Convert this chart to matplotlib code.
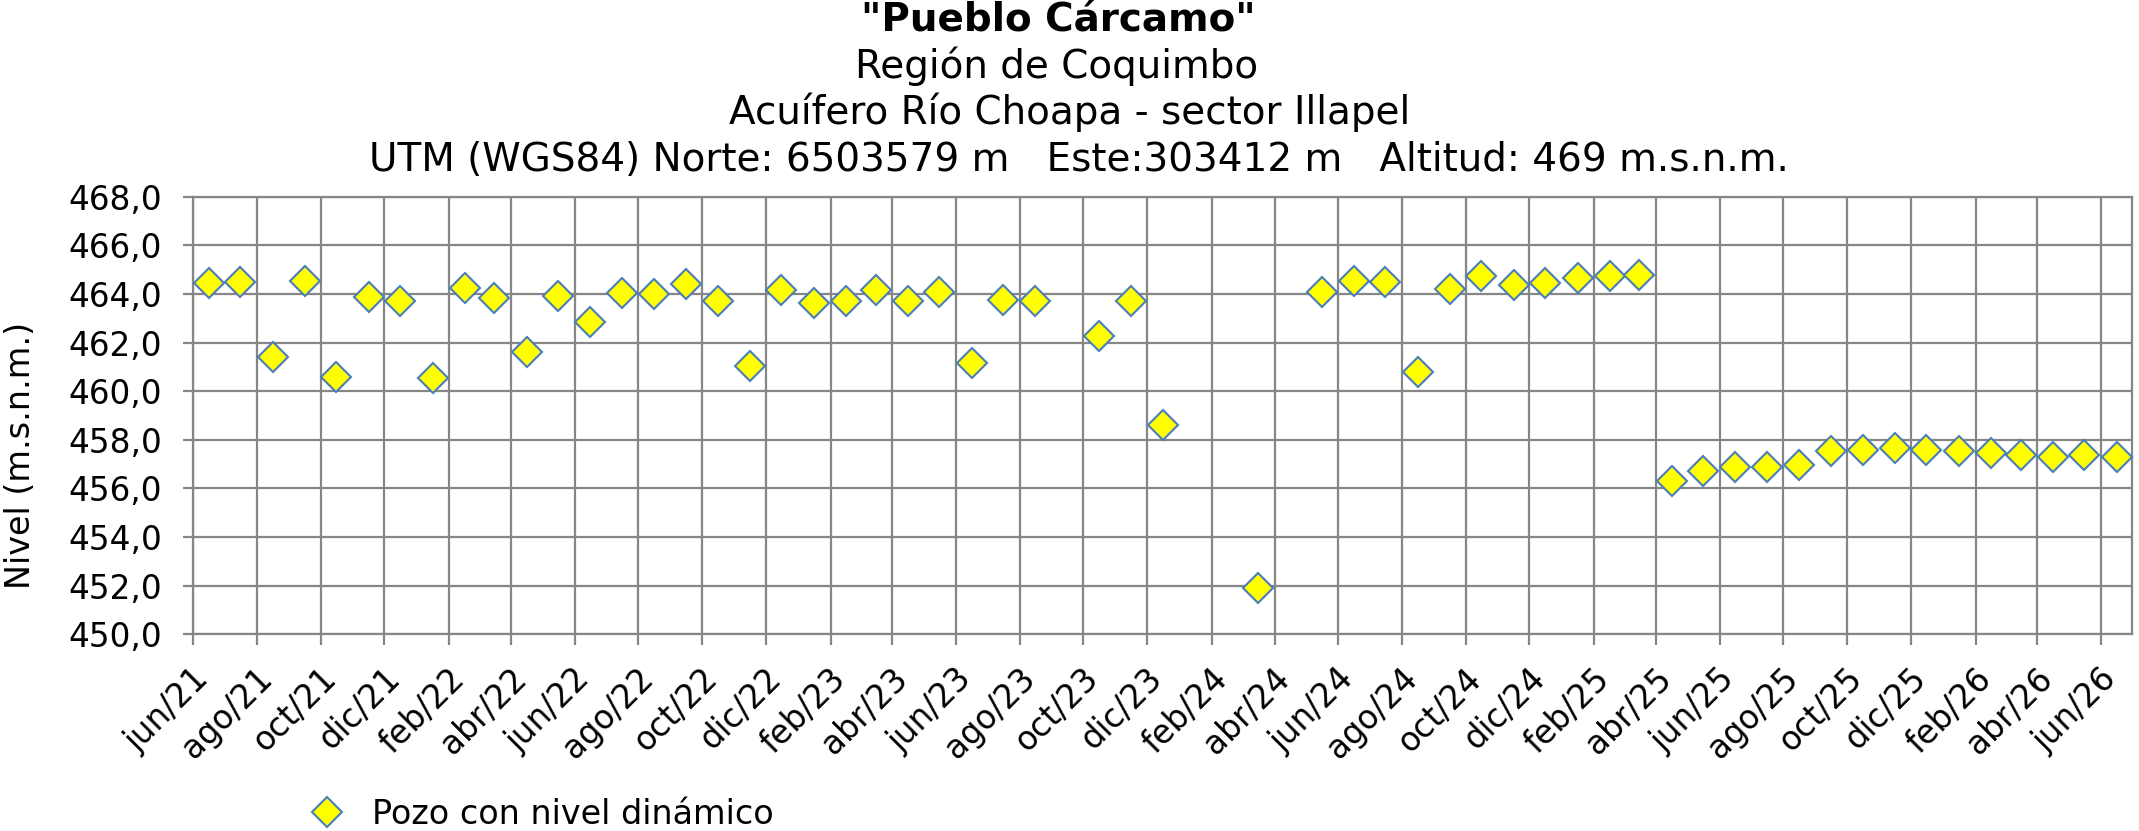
import matplotlib
matplotlib.use("Agg")
import matplotlib.pyplot as plt
import matplotlib.transforms as mtransforms
from matplotlib.lines import Line2D
from datetime import datetime

# ---------------- data ----------------
fechas = [
    "2021-06-16", "2021-07-16", "2021-08-16", "2021-09-16", "2021-10-16", "2021-11-16",
    "2021-12-16", "2022-01-16", "2022-02-16", "2022-03-16", "2022-04-16", "2022-05-16",
    "2022-06-16", "2022-07-16", "2022-08-16", "2022-09-16", "2022-10-16", "2022-11-16",
    "2022-12-16", "2023-01-16", "2023-02-16", "2023-03-16", "2023-04-16", "2023-05-16",
    "2023-06-16", "2023-07-16", "2023-08-16", "2023-10-16", "2023-11-16", "2023-12-16",
    "2024-03-16", "2024-05-16", "2024-06-16", "2024-07-16", "2024-08-16", "2024-09-16",
    "2024-10-16", "2024-11-16", "2024-12-16", "2025-01-16", "2025-02-16", "2025-03-16",
    "2025-04-16", "2025-05-16", "2025-06-16", "2025-07-16", "2025-08-16", "2025-09-16",
    "2025-10-16", "2025-11-16", "2025-12-16", "2026-01-16", "2026-02-16", "2026-03-16",
    "2026-04-16", "2026-05-16", "2026-06-16",
]
nivel = [
    464.47, 464.49, 461.42, 464.52, 460.57, 463.86,
    463.73, 460.54, 464.26, 463.83, 461.62, 463.93,
    462.84, 464.02, 463.98, 464.39, 463.71, 461.05,
    464.17, 463.64, 463.71, 464.15, 463.71, 464.10,
    461.18, 463.75, 463.71, 462.29, 463.69, 458.60,
    451.92, 464.09, 464.54, 464.50, 460.80, 464.19,
    464.75, 464.36, 464.47, 464.65, 464.72, 464.76,
    456.30, 456.72, 456.88, 456.90, 456.96, 457.52,
    457.59, 457.66, 457.57, 457.55, 457.44, 457.38,
    457.29, 457.36, 457.29,
]
tick_fechas = [
    "2021-06-01", "2021-08-01", "2021-10-01", "2021-12-01", "2022-02-01", "2022-04-01",
    "2022-06-01", "2022-08-01", "2022-10-01", "2022-12-01", "2023-02-01", "2023-04-01",
    "2023-06-01", "2023-08-01", "2023-10-01", "2023-12-01", "2024-02-01", "2024-04-01",
    "2024-06-01", "2024-08-01", "2024-10-01", "2024-12-01", "2025-02-01", "2025-04-01",
    "2025-06-01", "2025-08-01", "2025-10-01", "2025-12-01", "2026-02-01", "2026-04-01",
    "2026-06-01",
]
tick_labels = [
    "jun/21", "ago/21", "oct/21", "dic/21", "feb/22", "abr/22",
    "jun/22", "ago/22", "oct/22", "dic/22", "feb/23", "abr/23",
    "jun/23", "ago/23", "oct/23", "dic/23", "feb/24", "abr/24",
    "jun/24", "ago/24", "oct/24", "dic/24", "feb/25", "abr/25",
    "jun/25", "ago/25", "oct/25", "dic/25", "feb/26", "abr/26",
    "jun/26",
]
y_ticks = [450, 452, 454, 456, 458, 460, 462, 464, 466, 468]
x_min, x_max = "2021-06-01", "2026-07-01"

titulo = '"Pueblo Cárcamo"'
subtitulos = [
    "Región de Coquimbo",
    "Acuífero Río Choapa - sector Illapel",
    "UTM (WGS84) Norte: 6503579 m   Este:303412 m   Altitud: 469 m.s.n.m.",
]
serie_nombre = "Pozo con nivel dinámico"
y_titulo = "Nivel (m.s.n.m.)"

# ---------------- style ----------------
plt.rcParams["font.family"] = ["DejaVu Sans"]
FS_TICK = 23.5
FS_TITLE = 28
FS_LEG = 24
FS_YLAB = 24
GRID = "#868686"
FILL = "#FFFF00"
EDGE = "#4A7EBB"
MS = 15.5
MEW = 1.5

W, H = 2139, 831
fig = plt.figure(figsize=(W / 100, H / 100), dpi=100)
left, right, top, bottom = 193.3, 2132.3, 196.7, 634.3
ax = fig.add_axes([left / W, 1 - bottom / H, (right - left) / W, (bottom - top) / H])

to_dt = lambda s: datetime.strptime(s, "%Y-%m-%d")
xd = [to_dt(s) for s in fechas]

ax.plot(xd, nivel, linestyle="none", marker="D", markersize=MS,
        markerfacecolor=FILL, markeredgecolor=EDGE, markeredgewidth=MEW,
        zorder=3, clip_on=False)

ax.set_xlim(to_dt(x_min), to_dt(x_max))
ax.set_ylim(y_ticks[0], y_ticks[-1])
ax.set_yticks(y_ticks)
ax.set_yticklabels([f"{v:.1f}".replace(".", ",") for v in y_ticks], fontsize=FS_TICK)
ax.set_xticks([to_dt(s) for s in tick_fechas])
ax.set_xticklabels(tick_labels, fontsize=FS_TICK, rotation=45, ha="right", va="top")

ax.grid(True, color=GRID, linewidth=1.6, zorder=0)
ax.set_axisbelow(True)
for sp in ax.spines.values():
    sp.set_color(GRID)
    sp.set_linewidth(1.6)
ax.tick_params(axis="y", direction="out", length=7.5, width=1.6, color=GRID, pad=15)
ax.tick_params(axis="x", direction="out", length=8, width=1.6, color=GRID, pad=12)

offset = mtransforms.ScaledTranslation(0.22, 0, fig.dpi_scale_trans)
for lab in ax.get_xticklabels():
    lab.set_transform(lab.get_transform() + offset)

fig.text(21 / W, 1 - 455 / H, y_titulo, rotation=90,
         ha="center", va="center", fontsize=FS_YLAB)

# titles
fig.text(0.495, 1 - 21 / H, titulo, ha="center", va="center",
         fontsize=FS_TITLE, fontweight="bold")
xs = [0.494, 0.5, 0.5044]
ys = [66, 112, 160]
for t, x, y in zip(subtitulos, xs, ys):
    fig.text(x, 1 - y / H, t, ha="center", va="center", fontsize=FS_TITLE)

# legend
h = Line2D([], [], linestyle="none", marker="D", markersize=MS,
           markerfacecolor=FILL, markeredgecolor=EDGE, markeredgewidth=MEW)
fig.legend([h], [serie_nombre], loc="center left", bbox_to_anchor=(310 / W, 17 / H),
           frameon=False, fontsize=FS_LEG, handlelength=1.0, handletextpad=0.85,
           borderpad=0, borderaxespad=0)

fig.savefig("out.png", dpi=100)
